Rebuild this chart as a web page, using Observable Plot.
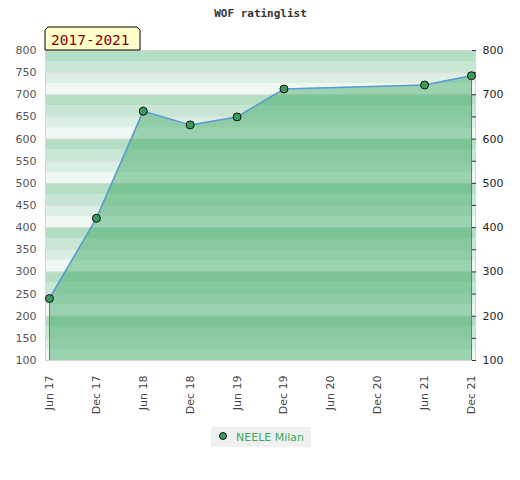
<!DOCTYPE html>
<html>
<head>
<meta charset="utf-8">
<script src="https://cdn.jsdelivr.net/npm/d3@7"></script>
<script src="https://cdn.jsdelivr.net/npm/@observablehq/plot@0.6"></script>
<style>
  html, body { margin: 0; padding: 0; background: #fff; }
</style>
</head>
<body>
<div id="chart"></div>
<script>
// ---- data ----
const periods = ["Jun 17","Dec 17","Jun 18","Dec 18","Jun 19","Dec 19","Jun 20","Dec 20","Jun 21","Dec 21"];
const ratedPeriods = ["Jun 17","Dec 17","Jun 18","Dec 18","Jun 19","Dec 19","Jun 21","Dec 21"];
const ratings = [240, 421, 663, 632, 650, 713, 722, 743];
const yTicksLeft = [100,150,200,250,300,350,400,450,500,550,600,650,700,750,800];
const yTicksRight = [100,200,300,400,500,600,700,800];
const title = "WOF ratinglist";
const periodLabel = "2017-2021";
const playerName = "NEELE Milan";

// ---- styling ----
const W = 520, H = 480;
const mL = 45, mR = 45, mT = 50, mB = 120;
const yMin = 100, yMax = 800;
const bandColors = ["#f0f8f3", "#dcefe3", "#c8e6d4", "#b3dec4"];
const areaColor = "rgb(60,167,98)";
const dotColor = "#3d9c5c";
const lineColor = "#5b9bd5";

const data = ratedPeriods.map((p, i) => ({period: p, value: ratings[i]}));
const ends = [data[0], data[data.length - 1]];
const bands = d3.range(yMin, yMax, 25).map(lo => ({lo, hi: lo + 25, color: bandColors[((lo % 100) / 25)]}));

const plot = Plot.plot({
  width: W, height: H,
  marginLeft: mL, marginRight: mR, marginTop: mT, marginBottom: mB,
  style: {fontFamily: "DejaVu Sans", fontSize: "11px", background: "#fff"},
  x: {type: "point", domain: periods, padding: 0, round: false, range: [mL + 4, W - mR - 4]},
  y: {domain: [yMin, yMax]},
  marks: [
    Plot.rect(bands, {y1: "lo", y2: "hi", fill: "color", inset: 0}),
    Plot.ruleY(yTicksLeft, {stroke: "#dcdcdc", strokeWidth: 1}),
    Plot.frame({stroke: "#d6d6d6"}),
    Plot.areaY(data, {x: "period", y1: () => yMin, y2: "value", fill: areaColor, fillOpacity: 0.47}),
    Plot.ruleX(ends, {x: "period", y1: () => yMin, y2: "value", stroke: dotColor, strokeWidth: 1}),
    Plot.lineY(data, {x: "period", y: "value", stroke: lineColor, strokeWidth: 1.5}),
    Plot.dot(data, {x: "period", y: "value", r: 4, fill: dotColor, stroke: "#111", strokeWidth: 1}),
    Plot.axisX({tickRotate: -90, tickSize: 0, tickPadding: 15, color: "#444", label: null, fontSize: 11}),
    Plot.axisY({anchor: "left", ticks: yTicksLeft, tickSize: 0, tickPadding: 9, color: "#555", label: null, fontSize: 11}),
    Plot.axisY({anchor: "right", ticks: yTicksLeft, tickSize: -4, tickFormat: () => "", stroke: "#333", label: null}),
    Plot.axisY({anchor: "right", ticks: yTicksRight, tickSize: 0, tickPadding: 7, color: "#222", label: null, fontSize: 11}),
    Plot.text([title], {frameAnchor: "top", dy: -41, text: d => d, fontFamily: "DejaVu Sans Mono", fontWeight: "bold", fontSize: 11, fill: "#333"})
  ]
});

const svg = d3.select(plot);
// period label box with cut corners
const bx0 = mL, bx1 = mL + 95, by0 = mT - 23, by1 = mT;
svg.append("path")
  .attr("d", `M${bx0},${by1}V${by0+3}L${bx0+3},${by0}H${bx1-3}L${bx1},${by0+3}V${by1}Z`)
  .attr("fill", "#ffffcc").attr("stroke", "#000").attr("stroke-width", 1);
svg.append("text")
  .attr("x", bx0 + 6).attr("y", by1 - 5)
  .attr("text-anchor", "start")
  .attr("font-family", "DejaVu Sans Mono").attr("font-size", 14.5)
  .attr("fill", "#8b0000")
  .text(periodLabel);

// legend
const lw = 100, lh = 20, lx = (W - lw) / 2 + 1, ly = 427;
const leg = svg.append("g").attr("text-anchor", "start");
leg.append("rect").attr("x", lx).attr("y", ly).attr("width", lw).attr("height", lh).attr("fill", "#f0f0f0");
leg.append("circle").attr("cx", lx + 12).attr("cy", ly + 9).attr("r", 3.5).attr("fill", dotColor).attr("stroke", "#111");
leg.append("text").attr("x", lx + 25).attr("y", ly + 13.5)
  .attr("text-anchor", "start")
  .attr("font-family", "DejaVu Sans").attr("font-size", 11).attr("fill", "#3aaa5c")
  .text(playerName);

document.getElementById("chart").appendChild(plot);
</script>
</body>
</html>
